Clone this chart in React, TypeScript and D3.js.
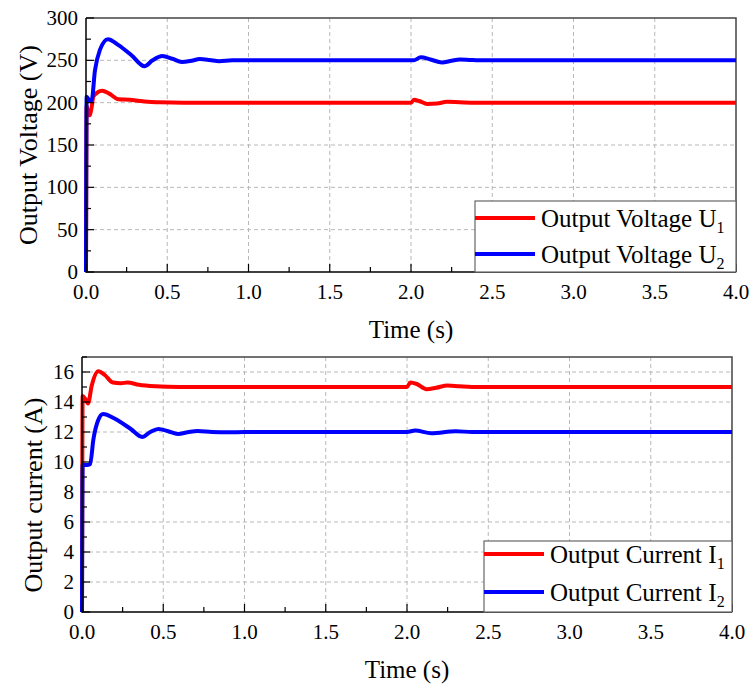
import React, { useEffect, useRef } from "react";
import * as d3 from "d3";

// time axis shared by both panels
const timeTicks = [0, 0.5, 1.0, 1.5, 2.0, 2.5, 3.0, 3.5, 4.0];

// output voltage (V)
const u1Time = [0, 0.004, 0.012, 0.022, 0.035, 0.045, 0.07, 0.1, 0.14, 0.2, 0.27, 0.33, 0.38, 0.45, 0.6, 1.0, 2.0, 2.02, 2.05, 2.1, 2.16, 2.22, 2.3, 2.4, 3.0, 4.0];
const u1 = [0, 196, 188, 185, 195, 207, 212, 214, 211, 204, 203.5, 202, 201, 200.5, 200, 200, 200, 203.5, 202, 198.5, 199, 201, 200.5, 200, 200, 200];
const u2Time = [0, 0.004, 0.02, 0.035, 0.055, 0.085, 0.135, 0.2, 0.28, 0.36, 0.41, 0.47, 0.53, 0.59, 0.65, 0.7, 0.76, 0.82, 0.9, 1.0, 2.0, 2.016, 2.06, 2.12, 2.19, 2.25, 2.3, 2.36, 2.42, 3.0, 4.0];
const u2 = [0, 207, 203, 203, 238, 262, 275, 268, 256, 243, 250, 255, 252, 248, 249.5, 251.5, 250.5, 249, 250, 250, 250, 250, 253.5, 251, 247.5, 249.5, 251, 250.5, 250, 250, 250];

// output current (A)
const i1Time = [0, 0.004, 0.02, 0.037, 0.06, 0.1, 0.14, 0.19, 0.24, 0.28, 0.35, 0.45, 0.6, 2.0, 2.02, 2.06, 2.12, 2.18, 2.25, 2.32, 2.4, 4.0];
const i1 = [0, 14.4, 14.2, 13.9, 15.1, 16.05, 15.8, 15.3, 15.25, 15.3, 15.15, 15.05, 15.0, 15.0, 15.3, 15.2, 14.85, 14.95, 15.1, 15.05, 15.0, 15.0];
const i2Time = [0, 0.004, 0.03, 0.05, 0.07, 0.1, 0.13, 0.2, 0.3, 0.37, 0.42, 0.47, 0.53, 0.59, 0.65, 0.71, 0.8, 0.9, 1.0, 2.0, 2.05, 2.15, 2.3, 2.4, 4.0];
const i2 = [0, 9.8, 9.8, 9.85, 11.5, 12.8, 13.2, 12.9, 12.2, 11.67, 12.0, 12.2, 12.05, 11.87, 11.98, 12.07, 12.0, 11.98, 12.0, 12.0, 12.1, 11.92, 12.05, 12.0, 12.0];

const voltTicks = [0, 50, 100, 150, 200, 250, 300];
const currTicks = [0, 2, 4, 6, 8, 10, 12, 14, 16];

const FONT = "Liberation Serif, serif";

function drawPanel(svg, p) {
	const x = d3.scaleLinear().domain([0, 4]).range([p.left, p.right]);
	const y = d3.scaleLinear().domain(p.yDomain).range([p.bottom, p.top]);
	const g = svg.append("g");

	// grid
	g.selectAll(".gx").data(timeTicks.slice(1, -1)).enter().append("line")
		.attr("x1", d => x(d)).attr("x2", d => x(d))
		.attr("y1", p.top).attr("y2", p.bottom)
		.attr("stroke", "#b8b8b8").attr("stroke-dasharray", "4,3");
	g.selectAll(".gy").data(p.yTicks.filter(d => d > 0 && d < p.yDomain[1])).enter().append("line")
		.attr("x1", p.left).attr("x2", p.right)
		.attr("y1", d => y(d)).attr("y2", d => y(d))
		.attr("stroke", "#b8b8b8").attr("stroke-dasharray", "4,3");

	// frame top + right
	g.append("path")
		.attr("d", `M${p.left},${p.top}H${p.right}V${p.bottom}`)
		.attr("fill", "none").attr("stroke", "#444").attr("stroke-width", 1.5);

	// series
	const line = d3.line().x(d => x(d[0])).y(d => y(d[1])).curve(d3.curveMonotoneX);
	p.series.forEach(s => {
		g.append("path")
			.datum(s.t.map((t, i) => [t, s.v[i]]))
			.attr("d", line)
			.attr("fill", "none").attr("stroke", s.color).attr("stroke-width", 4)
			.attr("stroke-linejoin", "round");
	});

	// axes with inward ticks
	const xMinor = d3.range(0, 4.001, 0.25);
	g.selectAll(".tx").data(xMinor).enter().append("line")
		.attr("x1", d => x(d)).attr("x2", d => x(d))
		.attr("y1", p.bottom).attr("y2", (d, i) => p.bottom - (i % 2 === 0 ? 8 : 5))
		.attr("stroke", "#000").attr("stroke-width", 1.2);
	const yMinor = d3.range(0, p.yDomain[1] + 0.001, p.yMinorStep);
	g.selectAll(".ty").data(yMinor).enter().append("line")
		.attr("x1", p.left).attr("x2", (d, i) => p.left + (i % 2 === 0 ? 8 : 5))
		.attr("y1", d => y(d)).attr("y2", d => y(d))
		.attr("stroke", "#000").attr("stroke-width", 1.2);
	g.append("path")
		.attr("d", `M${p.left},${p.top}V${p.bottom}H${p.right}`)
		.attr("fill", "none").attr("stroke", "#000").attr("stroke-width", 1.5);

	g.selectAll(".lx").data(timeTicks).enter().append("text")
		.attr("x", d => x(d)).attr("y", p.bottom + 27)
		.attr("text-anchor", "middle").attr("font-size", 21)
		.text(d => d.toFixed(1));
	g.selectAll(".ly").data(p.yTicks).enter().append("text")
		.attr("x", p.left - 8).attr("y", d => y(d) + 7)
		.attr("text-anchor", "end").attr("font-size", 21)
		.text(d => d);

	g.append("text")
		.attr("x", (p.left + p.right) / 2).attr("y", p.bottom + 66)
		.attr("text-anchor", "middle").attr("font-size", 25)
		.text("Time (s)");
	g.append("text")
		.attr("transform", `translate(${p.yTitleX},${p.yTitleY}) rotate(-90)`)
		.attr("text-anchor", "middle").attr("font-size", 26)
		.text(p.yTitle);

	// legend
	const L = p.legend;
	g.append("rect")
		.attr("x", L.x).attr("y", L.y).attr("width", p.right - L.x).attr("height", p.bottom - L.y)
		.attr("fill", "#fff").attr("stroke", "#666").attr("stroke-width", 1.2);
	p.series.forEach((s, i) => {
		const ry = L.rows[i];
		g.append("line")
			.attr("x1", L.x).attr("x2", L.x + 60).attr("y1", ry).attr("y2", ry)
			.attr("stroke", s.color).attr("stroke-width", 4);
		const t = g.append("text")
			.attr("x", L.x + 66).attr("y", ry + 9)
			.attr("font-size", 25);
		t.append("tspan").text(s.name);
		t.append("tspan").attr("font-size", 16).attr("dy", 6).text(s.sub);
	});
}

export default function App() {
	const ref = useRef(null);

	useEffect(() => {
		const svg = d3.select(ref.current);
		svg.selectAll("*").remove();

		drawPanel(svg, {
			left: 86, right: 736, top: 18, bottom: 272,
			yDomain: [0, 300], yTicks: voltTicks, yMinorStep: 25,
			yTitle: "Output Voltage (V)", yTitleX: 37, yTitleY: 145,
			legend: { x: 475, y: 201, rows: [218, 254] },
			series: [
				{ t: u1Time, v: u1, color: "#ff0000", name: "Output Voltage U", sub: "1" },
				{ t: u2Time, v: u2, color: "#0000ff", name: "Output Voltage U", sub: "2" }
			]
		});
		drawPanel(svg, {
			left: 82, right: 732, top: 357, bottom: 612,
			yDomain: [0, 17], yTicks: currTicks, yMinorStep: 1,
			yTitle: "Output current (A)", yTitleX: 42, yTitleY: 495,
			legend: { x: 484, y: 541, rows: [554, 592] },
			series: [
				{ t: i1Time, v: i1, color: "#ff0000", name: "Output Current I", sub: "1" },
				{ t: i2Time, v: i2, color: "#0000ff", name: "Output Current I", sub: "2" }
			]
		});
	}, []);

	return (
		<svg ref={ref} width={750} height={689} fontFamily={FONT}
			style={{ position: "absolute", left: 0, top: 0, background: "#fff" }} />
	);
}
